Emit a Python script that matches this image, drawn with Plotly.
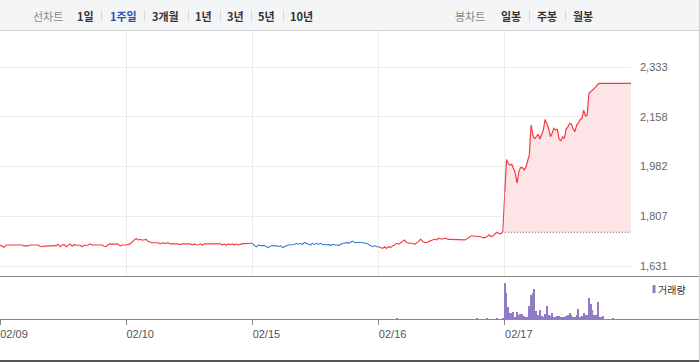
import plotly.graph_objects as go

# ---------------- data ----------------
day_labels = ["02/09", "02/10", "02/15", "02/16", "02/17"]
prev_close = 1750

price_0209 = [1705, 1701, 1697, 1705, 1705, 1705, 1705, 1705, 1705, 1705, 1705, 1705, 1702, 1702, 1702, 1705,
              1705, 1705, 1705, 1705, 1701, 1699, 1701, 1701, 1701, 1703, 1703, 1703, 1703, 1708, 1699, 1704,
              1707, 1699, 1704, 1709, 1701, 1707, 1704, 1704, 1704, 1699, 1704, 1704, 1704, 1709, 1705, 1705,
              1705, 1705, 1705, 1705, 1701, 1699, 1707, 1709, 1708, 1708, 1708, 1708, 1701, 1705, 1705]
price_0210 = [1705, 1707, 1709, 1716, 1723, 1728, 1723, 1725, 1722, 1723, 1725, 1717, 1714, 1713, 1713, 1713,
              1713, 1709, 1713, 1711, 1713, 1713, 1709, 1709, 1709, 1709, 1709, 1706, 1709, 1709, 1709, 1709,
              1709, 1705, 1709, 1706, 1705, 1709, 1704, 1709, 1709, 1709, 1709, 1709, 1709, 1709, 1709, 1709,
              1705, 1709, 1704, 1709, 1706, 1709, 1705, 1709, 1705, 1709, 1710, 1710, 1710, 1710, 1710]
price_0215 = [1711, 1703, 1699, 1705, 1703, 1703, 1703, 1699, 1696, 1701, 1703, 1702, 1703, 1699, 1703, 1696,
              1699, 1703, 1705, 1706, 1707, 1707, 1711, 1707, 1711, 1707, 1714, 1711, 1707, 1705, 1711, 1707,
              1711, 1707, 1711, 1707, 1707, 1705, 1707, 1703, 1707, 1707, 1705, 1703, 1707, 1711, 1711, 1714,
              1711, 1714, 1719, 1714, 1714, 1714, 1714, 1714, 1711, 1711, 1707, 1703, 1699, 1703, 1699]
price_0216 = [1699, 1696, 1693, 1699, 1693, 1700, 1696, 1702, 1705, 1711, 1708, 1713, 1719, 1723, 1714, 1711,
              1711, 1711, 1707, 1711, 1718, 1726, 1717, 1714, 1714, 1717, 1720, 1723, 1726, 1723, 1729, 1726,
              1726, 1729, 1726, 1725, 1725, 1725, 1725, 1725, 1725, 1725, 1725, 1723, 1726, 1731, 1737, 1737,
              1737, 1737, 1735, 1734, 1731, 1731, 1734, 1741, 1735, 1737, 1743, 1750, 1746, 1744, 1752]
price_0217 = [1893, 2007, 1993, 1987, 1990, 1976, 1958, 1923, 1964, 1978, 1978, 1970, 1978, 2001, 2023, 2128,
              2093, 2079, 2087, 2096, 2079, 2093, 2111, 2148, 2128, 2117, 2087, 2099, 2117, 2111, 2113, 2078,
              2073, 2087, 2081, 2114, 2122, 2134, 2132, 2114, 2105, 2128, 2136, 2148, 2152, 2181, 2160, 2164,
              2240, 2246, 2252, 2255, 2263, 2272, 2275, 2275, 2275, 2275, 2275, 2275, 2275, 2275, 2275, 2275,
              2275, 2275, 2275, 2275, 2275, 2275, 2275, 2275, 2275]

vol_0216 = [0, 0, 0, 0, 0, 0, 0, 0, 0, 8, 0, 0, 0, 0, 0, 0, 0, 0, 0, 0, 0, 0, 0, 0, 0, 0, 0, 0, 0, 0, 0, 0,
            0, 0, 0, 0, 0, 0, 0, 0, 0, 0, 0, 0, 0, 0, 0, 0, 0, 8, 0, 0, 0, 0, 8, 0, 0, 0, 0, 8, 0, 0, 6]
vol_0217 = [363, 257, 123, 63, 57, 70, 23, 70, 43, 50, 50, 30, 23, 17, 130, 237, 257, 300, 77, 43, 90, 30,
            17, 50, 130, 43, 30, 57, 23, 23, 30, 30, 17, 17, 23, 30, 37, 57, 37, 23, 23, 37, 97, 23, 30, 57,
            43, 37, 210, 150, 90, 37, 43, 170, 17, 17, 30, 0, 0, 0, 0, 0, 10, 0, 0, 0, 0, 0, 0, 0, 0, 0, 0]

ytick_vals = [1631, 1806.5, 1982, 2157.5, 2333]
ytick_text = ["1,631", "1,807", "1,982", "2,158", "2,333"]

day_prices = [price_0209, price_0210, price_0215, price_0216, price_0217]
day_colors = ["#f63a3f", "#f63a3f", "#3a7ddc", "#f63a3f", "#f63a3f"]

RED = "#f63a3f"
FILL = "#fde4e7"
VOL = "#8f7cc4"
W, H = 700, 362


def day_x(d, n, last=False):
    if last:
        return [d + i / (n - 1) for i in range(n)]
    return [d + i / n for i in range(n)]


xs = [day_x(d, len(p), last=(d == len(day_prices) - 1)) for d, p in enumerate(day_prices)]

fig = go.Figure()

# intraday lines for the first four days (each joined to next day's first point)
for d in range(4):
    fig.add_trace(go.Scatter(
        x=xs[d] + [xs[d + 1][0]], y=day_prices[d] + [day_prices[d + 1][0]],
        mode="lines", line=dict(color=day_colors[d], width=1.1),
        xaxis="x2", yaxis="y", hoverinfo="skip"))

# previous close baseline for the last day
fig.add_trace(go.Scatter(
    x=[xs[4][0], xs[4][-1]], y=[prev_close, prev_close],
    mode="lines", line=dict(color="#555555", width=1, dash="1px,2px"),
    xaxis="x2", yaxis="y", hoverinfo="skip"))

# last day with fill to previous close
fig.add_trace(go.Scatter(
    x=xs[4], y=price_0217, mode="lines", line=dict(color=RED, width=1.2),
    fill="tonexty", fillcolor=FILL, xaxis="x2", yaxis="y", hoverinfo="skip"))

# volume bars
fig.add_trace(go.Bar(x=xs[3], y=vol_0216, marker=dict(color=VOL, line=dict(width=0)),
                     width=0.7 / len(price_0217), xaxis="x", yaxis="y2", hoverinfo="skip"))
fig.add_trace(go.Bar(x=xs[4], y=vol_0217, marker=dict(color=VOL, line=dict(width=0)),
                     width=0.7 / len(price_0217), xaxis="x", yaxis="y2", hoverinfo="skip"))

# pixel geometry helpers
def py(p):
    return 1 - p / H


def px(p):
    return p / W


plot_right = 631
top_px, sep_px, axis_px = 30, 277, 319
# price range from gridline pixel positions (2333 at y=67, 1631 at y=266)
scale = (266 - 67) / (2333 - 1631)
y_top = 2333 + (67 - top_px) / scale
y_bot = 1631 - (sep_px - 266) / scale

tick_font = dict(family="Liberation Sans, Arial, sans-serif", size=11, color="#666666")

fig.update_layout(
    width=W, height=H, margin=dict(l=0, r=0, t=0, b=0),
    paper_bgcolor="white", plot_bgcolor="white", showlegend=False, bargap=0,
    xaxis=dict(domain=[0, px(plot_right)], range=[0, 5], anchor="y2",
               tickvals=[0, 1, 2, 3, 4], ticktext=day_labels, ticks="outside", ticklen=5,
               tickcolor="#8a8a8a", tickwidth=1, showgrid=False, showline=False, zeroline=False,
               tickfont=dict(family="Liberation Sans, Arial, sans-serif", size=11, color="#555555"),
               ticklabelshift=14),
    xaxis2=dict(domain=[0, px(plot_right)], matches="x", anchor="y", tickvals=[1, 2, 3, 4],
                showticklabels=False, ticks="", showgrid=True, gridcolor="#ebebeb", gridwidth=1,
                showline=False, zeroline=False),
    yaxis=dict(domain=[py(sep_px), py(top_px)], range=[y_bot, y_top], anchor="x2", side="right",
               tickvals=ytick_vals, ticktext=ytick_text, ticks="", showgrid=True, gridcolor="#ebebeb",
               gridwidth=1, zeroline=False, showline=False, tickfont=tick_font, ticklabelstandoff=8),
    yaxis2=dict(domain=[py(axis_px), py(sep_px)], range=[0, 363 * 42 / 36.3], anchor="x",
                showticklabels=False, showgrid=False, zeroline=False, showline=False),
)

shapes = []
# toolbar background and border
shapes.append(dict(type="rect", xref="paper", yref="paper", x0=0, x1=1, y0=py(top_px), y1=1,
                   fillcolor="#f4f5f7", line=dict(width=0), layer="below"))
shapes.append(dict(type="line", xref="paper", yref="paper", x0=0, x1=1, y0=py(30.5), y1=py(30.5),
                   line=dict(color="#d3d3d3", width=1)))
# panel separator, axis line and bottom line
shapes.append(dict(type="line", xref="paper", yref="paper", x0=0, x1=1, y0=py(276.5), y1=py(276.5),
                   line=dict(color="#8a8a8a", width=1)))
shapes.append(dict(type="line", xref="paper", yref="paper", x0=0, x1=1, y0=py(319.5), y1=py(319.5),
                   line=dict(color="#8a8a8a", width=1)))
shapes.append(dict(type="line", xref="paper", yref="paper", x0=0, x1=1, y0=py(361), y1=py(361),
                   line=dict(color="#555555", width=2)))
# right border
shapes.append(dict(type="line", xref="paper", yref="paper", x0=px(699.5), x1=px(699.5), y0=0, y1=1,
                   line=dict(color="#cccccc", width=1)))
# toolbar separators
for sx in [101, 144, 188, 220, 251, 283, 529, 565]:
    shapes.append(dict(type="line", xref="paper", yref="paper", x0=px(sx + 0.5), x1=px(sx + 0.5),
                       y0=py(10), y1=py(21), line=dict(color="#d9d9d9", width=1)))
# volume legend marker
shapes.append(dict(type="rect", xref="paper", yref="paper", x0=px(652.5), x1=px(655.5),
                   y0=py(293), y1=py(285), fillcolor=VOL, line=dict(width=0)))
fig.update_layout(shapes=shapes)

KR = "Noto Sans CJK KR, sans-serif"
toolbar_items = [
    ("선차트", 33, "#888888", False), ("1일", 77, "#333333", True), ("1주일", 110, "#2b4fb4", True),
    ("3개월", 152, "#333333", True), ("1년", 195, "#333333", True), ("3년", 227, "#333333", True),
    ("5년", 258, "#333333", True), ("10년", 290, "#333333", True),
    ("봉차트", 455, "#888888", False), ("일봉", 501, "#333333", True), ("주봉", 537, "#333333", True),
    ("월봉", 573, "#333333", True),
]
for text, lx, col, bold in toolbar_items:
    fig.add_annotation(xref="paper", yref="paper", x=px(lx - 1), y=py(15.5), xanchor="left",
                       yanchor="middle", showarrow=False, borderpad=0,
                       text=f"<b>{text}</b>" if bold else text,
                       font=dict(family=KR, size=11, color=col))

fig.add_annotation(xref="paper", yref="paper", x=px(657), y=py(289.5), xanchor="left", yanchor="middle",
                   showarrow=False, borderpad=0, text="거래량",
                   font=dict(family=KR, size=10, color="#333333"))

fig.write_html("out.html", config={"displayModeBar": False},
               post_script="document.body.style.margin='0px';document.body.style.overflow='hidden';")
